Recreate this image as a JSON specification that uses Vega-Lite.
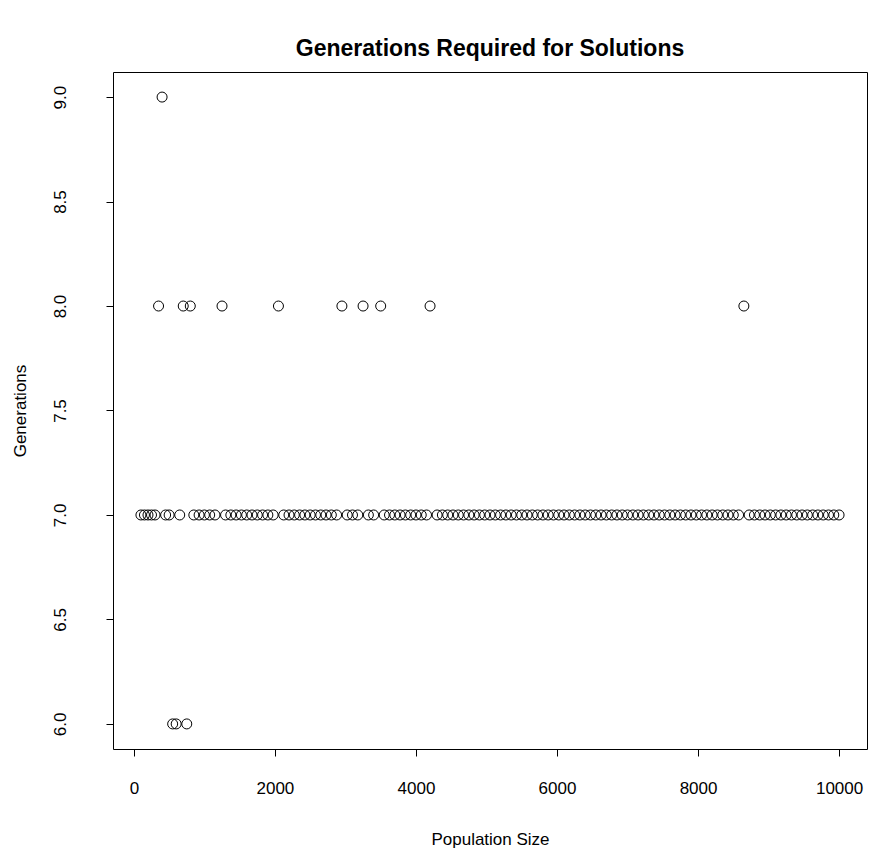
{
 "$schema": "https://vega.github.io/schema/vega-lite/v6.json",
 "width": 754,
 "height": 677,
 "autosize": {"type": "none"},
 "padding": {"left": 113, "top": 72, "right": 8, "bottom": 111},
 "background": "white",
 "config": {
  "view": {"stroke": "black", "strokeWidth": 1},
  "font": "Liberation Sans",
  "axis": {"grid": false, "domain": false, "tickColor": "black", "tickSize": 7, "tickWidth": 1, "labelColor": "black", "titleColor": "black", "labelFontSize": 17, "titleFontSize": 17, "titleFontWeight": "normal", "labelFont": "Liberation Sans", "titleFont": "Liberation Sans"}
 },
 "title": {"text": "Generations Required for Solutions", "fontSize": 23, "fontWeight": "bold", "font": "Liberation Sans", "color": "black", "anchor": "middle", "baseline": "alphabetic", "offset": -7},
 "data": {"values": [
  {"p": 100, "g": 7}, {"p": 150, "g": 7}, {"p": 200, "g": 7}, {"p": 250, "g": 7}, {"p": 300, "g": 7},
  {"p": 350, "g": 8}, {"p": 400, "g": 9}, {"p": 450, "g": 7}, {"p": 500, "g": 7},
  {"p": 550, "g": 6}, {"p": 600, "g": 6}, {"p": 650, "g": 7}, {"p": 700, "g": 8}, {"p": 750, "g": 6}, {"p": 800, "g": 8},
  {"p": 850, "g": 7}, {"p": 925, "g": 7}, {"p": 1000, "g": 7}, {"p": 1075, "g": 7}, {"p": 1150, "g": 7},
  {"p": 1250, "g": 8},
  {"p": 1300, "g": 7}, {"p": 1375, "g": 7}, {"p": 1450, "g": 7}, {"p": 1525, "g": 7}, {"p": 1600, "g": 7},
  {"p": 1675, "g": 7}, {"p": 1750, "g": 7}, {"p": 1825, "g": 7}, {"p": 1900, "g": 7}, {"p": 1975, "g": 7},
  {"p": 2050, "g": 8},
  {"p": 2125, "g": 7}, {"p": 2200, "g": 7}, {"p": 2275, "g": 7}, {"p": 2350, "g": 7}, {"p": 2425, "g": 7},
  {"p": 2500, "g": 7}, {"p": 2575, "g": 7}, {"p": 2650, "g": 7}, {"p": 2725, "g": 7}, {"p": 2800, "g": 7},
  {"p": 2875, "g": 7},
  {"p": 2950, "g": 8},
  {"p": 3025, "g": 7}, {"p": 3100, "g": 7}, {"p": 3175, "g": 7},
  {"p": 3250, "g": 8},
  {"p": 3325, "g": 7}, {"p": 3400, "g": 7},
  {"p": 3500, "g": 8},
  {"p": 3550, "g": 7}, {"p": 3625, "g": 7}, {"p": 3700, "g": 7}, {"p": 3775, "g": 7}, {"p": 3850, "g": 7},
  {"p": 3925, "g": 7}, {"p": 4000, "g": 7}, {"p": 4075, "g": 7}, {"p": 4150, "g": 7},
  {"p": 4200, "g": 8},
  {"p": 4300, "g": 7}, {"p": 4375, "g": 7}, {"p": 4450, "g": 7}, {"p": 4525, "g": 7}, {"p": 4600, "g": 7},
  {"p": 4675, "g": 7}, {"p": 4750, "g": 7}, {"p": 4825, "g": 7}, {"p": 4900, "g": 7}, {"p": 4975, "g": 7},
  {"p": 5050, "g": 7}, {"p": 5125, "g": 7}, {"p": 5200, "g": 7}, {"p": 5275, "g": 7}, {"p": 5350, "g": 7},
  {"p": 5425, "g": 7}, {"p": 5500, "g": 7}, {"p": 5575, "g": 7}, {"p": 5650, "g": 7}, {"p": 5725, "g": 7},
  {"p": 5800, "g": 7}, {"p": 5875, "g": 7}, {"p": 5950, "g": 7}, {"p": 6025, "g": 7}, {"p": 6100, "g": 7},
  {"p": 6175, "g": 7}, {"p": 6250, "g": 7}, {"p": 6325, "g": 7}, {"p": 6400, "g": 7}, {"p": 6475, "g": 7},
  {"p": 6550, "g": 7}, {"p": 6625, "g": 7}, {"p": 6700, "g": 7}, {"p": 6775, "g": 7}, {"p": 6850, "g": 7},
  {"p": 6925, "g": 7}, {"p": 7000, "g": 7}, {"p": 7075, "g": 7}, {"p": 7150, "g": 7}, {"p": 7225, "g": 7},
  {"p": 7300, "g": 7}, {"p": 7375, "g": 7}, {"p": 7450, "g": 7}, {"p": 7525, "g": 7}, {"p": 7600, "g": 7},
  {"p": 7675, "g": 7}, {"p": 7750, "g": 7}, {"p": 7825, "g": 7}, {"p": 7900, "g": 7}, {"p": 7975, "g": 7},
  {"p": 8050, "g": 7}, {"p": 8125, "g": 7}, {"p": 8200, "g": 7}, {"p": 8275, "g": 7}, {"p": 8350, "g": 7},
  {"p": 8425, "g": 7}, {"p": 8500, "g": 7}, {"p": 8575, "g": 7},
  {"p": 8650, "g": 8},
  {"p": 8725, "g": 7}, {"p": 8800, "g": 7}, {"p": 8875, "g": 7}, {"p": 8950, "g": 7}, {"p": 9025, "g": 7},
  {"p": 9100, "g": 7}, {"p": 9175, "g": 7}, {"p": 9250, "g": 7}, {"p": 9325, "g": 7}, {"p": 9400, "g": 7},
  {"p": 9475, "g": 7}, {"p": 9550, "g": 7}, {"p": 9625, "g": 7}, {"p": 9700, "g": 7}, {"p": 9775, "g": 7},
  {"p": 9850, "g": 7}, {"p": 9925, "g": 7}, {"p": 10000, "g": 7}
 ]},
 "mark": {"type": "point", "shape": "circle", "filled": false, "stroke": "black", "strokeWidth": 1, "size": 100, "opacity": 1},
 "encoding": {
  "x": {"field": "p", "type": "quantitative",
   "scale": {"domain": [-296, 10396], "nice": false, "zero": false},
   "axis": {"values": [0, 2000, 4000, 6000, 8000, 10000], "format": "d", "title": "Population Size", "labelPadding": 24, "labelFlush": false, "labelOverlap": false, "titleY": 90, "titleBaseline": "middle"}},
  "y": {"field": "g", "type": "quantitative",
   "scale": {"domain": [5.88, 9.12], "nice": false, "zero": false},
   "axis": {"values": [6, 6.5, 7, 7.5, 8, 8.5, 9], "format": ".1f", "title": "Generations", "labelAngle": 270, "labelAlign": "center", "labelBaseline": "middle", "labelPadding": 46, "labelFlush": false, "labelOverlap": false, "titleX": -93, "titleAngle": 270, "titleBaseline": "middle", "titleAlign": "center"}}
 }
}
